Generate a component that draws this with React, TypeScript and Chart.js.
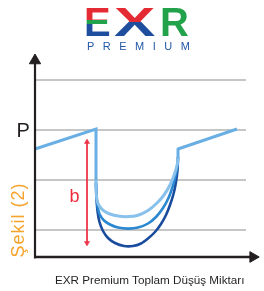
import { useEffect, useRef } from "react";
import { Chart, registerables } from "chart.js";

Chart.register(...registerables);

// horizontal guide lines (y units: one unit per grid step)
const GRID_Y = [1, 2, 3, 4];

// straight blue segments (pressure line before / after the drop)
const LEFT_X = [0, 61, 61];
const LEFT_Y = [2.62, 3.02, 2.0];
const RIGHT_X = [143, 143, 202];
const RIGHT_Y = [2.44, 2.62, 3.02];

// three drop curves (light, middle, dark)
const LIGHT_X = [61, 61.3, 62.5, 65, 69, 75, 83, 93, 103, 113, 122, 129, 135, 139.5, 142.3, 143];
const LIGHT_Y = [2.0, 1.72, 1.56, 1.46, 1.38, 1.32, 1.28, 1.268, 1.296, 1.39, 1.54, 1.7, 1.9, 2.12, 2.32, 2.44];
const MID_X = [61, 61.5, 62.5, 64.5, 69, 75, 83, 93, 103, 113, 121, 128, 133.5, 137.5, 140.5, 142.5, 143];
const MID_Y = [1.96, 1.68, 1.48, 1.32, 1.19, 1.11, 1.05, 1.028, 1.048, 1.13, 1.26, 1.44, 1.64, 1.86, 2.08, 2.3, 2.44];
const DARK_X = [61, 61.5, 62.5, 64.5, 68, 73, 80, 89, 98, 106, 113, 120, 126, 131, 135, 138.5, 141, 142.5, 143];
const DARK_Y = [1.92, 1.64, 1.38, 1.16, 0.98, 0.84, 0.74, 0.68, 0.68, 0.73, 0.83, 0.96, 1.12, 1.3, 1.5, 1.72, 1.96, 2.2, 2.44];

// "b" dimension arrow
const B_X = [52, 52];
const B_Y = [2.76, 0.74];

// axes
const Y_AXIS_X = [0, 0];
const Y_AXIS_Y = [0.433, 4.39];
const X_AXIS_X = [-1, 218];
const X_AXIS_Y = [0.46, 0.46];

const pts = (xs: number[], ys: number[]) => xs.map((x, i) => ({ x, y: ys[i] }));

export default function App() {
  const ref = useRef<HTMLCanvasElement | null>(null);

  useEffect(() => {
    if (!ref.current) return;
    const chart = new Chart(ref.current, {
      type: "line",
      data: {
        datasets: [
          {
            data: pts(Y_AXIS_X, Y_AXIS_Y),
            borderColor: "#231f20",
            backgroundColor: "#231f20",
            borderWidth: 2.2,
            pointRadius: [0, 6.5],
            pointStyle: "triangle",
            pointRotation: 0,
            pointBorderWidth: 1,
            pointBorderColor: "#231f20",
            pointBackgroundColor: "#231f20",
            tension: 0,
            clip: false,
          },
          {
            data: pts(X_AXIS_X, X_AXIS_Y),
            borderColor: "#231f20",
            backgroundColor: "#231f20",
            borderWidth: 2.7,
            pointRadius: [0, 6.2],
            pointStyle: "triangle",
            pointRotation: 90,
            pointBorderWidth: 1,
            pointBorderColor: "#231f20",
            pointBackgroundColor: "#231f20",
            tension: 0,
            clip: false,
          },
          {
            data: pts(B_X, B_Y),
            borderColor: "#ee3346",
            borderWidth: 1,
            pointRadius: 3,
            pointStyle: "triangle",
            pointRotation: [0, 180],
            pointBorderWidth: 0.5,
            pointBorderColor: "#ee3346",
            pointBackgroundColor: "#ee3346",
            tension: 0,
            clip: false,
          },
          {
            data: pts(LEFT_X, LEFT_Y),
            borderColor: "#6aafe3",
            borderWidth: 3,
            pointRadius: 0,
            tension: 0,
            clip: false,
          },
          {
            data: pts(RIGHT_X, RIGHT_Y),
            borderColor: "#6aafe3",
            borderWidth: 3,
            pointRadius: 0,
            tension: 0,
            borderJoinStyle: "round",
            clip: false,
          },
          {
            data: pts(LIGHT_X, LIGHT_Y),
            borderColor: "#88c1eb",
            borderWidth: 3,
            pointRadius: 0,
            tension: 0.3,
            borderCapStyle: "round",
            clip: false,
          },
          {
            data: pts(MID_X, MID_Y),
            borderColor: "#2a87d0",
            borderWidth: 2.6,
            pointRadius: 0,
            tension: 0.3,
            borderCapStyle: "round",
            clip: false,
          },
          {
            data: pts(DARK_X, DARK_Y),
            borderColor: "#1a4c9e",
            borderWidth: 2.6,
            pointRadius: 0,
            tension: 0.3,
            borderCapStyle: "round",
            clip: false,
          },
        ],
      },
      options: {
        responsive: false,
        animation: false,
        devicePixelRatio: 1,
        layout: { padding: { left: 35, right: 18, top: 55, bottom: 34 } },
        plugins: { legend: { display: false }, tooltip: { enabled: false } },
        scales: {
          x: { type: "linear", min: 0, max: 211, display: false },
          y: {
            type: "linear",
            min: 0.46,
            max: 4.5,
            afterBuildTicks: (scale: any) => {
              scale.ticks = GRID_Y.map((v) => ({ value: v }));
            },
            ticks: { display: false },
            border: { display: false },
            grid: { color: "#c6c6c6", lineWidth: 2, drawTicks: false },
          },
        },
      },
    });
    return () => chart.destroy();
  }, []);

  const letterBase: React.CSSProperties = {
    position: "absolute",
    top: 2,
    height: 40,
    fontFamily: "'Liberation Sans', Arial, sans-serif",
    fontWeight: "bold",
    fontSize: 40,
    lineHeight: "40px",
    WebkitBackgroundClip: "text",
    backgroundClip: "text",
    color: "transparent",
    WebkitTextFillColor: "transparent",
    whiteSpace: "nowrap",
  };

  return (
    <div style={{ position: "absolute", left: 0, top: 0, width: 264, height: 291, background: "#fff", overflow: "hidden" }}>
      <canvas ref={ref} width={264} height={291} style={{ position: "absolute", left: 0, top: 0, width: 264, height: 291 }} />
      <div style={{ position: "absolute", left: 0, top: 0, width: 264, height: 50 }}>
        <span
          style={{
            ...letterBase,
            left: 84,
            backgroundImage: "linear-gradient(to bottom, #e42a32 0%, #e42a32 44%, #22a34b 44%, #22a34b 56%, #1f4e9e 56%, #1f4e9e 100%)",
          }}
        >
          E
        </span>
        <span
          style={{
            ...letterBase,
            left: 114,
            transform: "scaleX(1.55)",
            transformOrigin: "0 0",
            backgroundImage: "linear-gradient(to bottom, #e42a32 0%, #e42a32 49%, #1f4e9e 49%, #1f4e9e 100%)",
          }}
        >
          X
        </span>
        <span style={{ ...letterBase, left: 160, backgroundImage: "linear-gradient(#22a34b, #22a34b)" }}>R</span>
        <span
          style={{
            position: "absolute",
            left: 87,
            top: 40.7,
            fontFamily: "'Liberation Sans', Arial, sans-serif",
            fontSize: 11,
            lineHeight: "11px",
            letterSpacing: "8.5px",
            color: "#2457a6",
            whiteSpace: "nowrap",
          }}
        >
          PREMIUM
        </span>
      </div>
      <span
        style={{
          position: "absolute",
          left: 16.4,
          top: 136.7 - 16.9,
          fontFamily: "'Liberation Sans', Arial, sans-serif",
          fontSize: 20,
          lineHeight: "20px",
          color: "#231f20",
        }}
      >
        P
      </span>
      <span
        style={{
          position: "absolute",
          left: 69.5,
          top: 201.7 - 15.2,
          fontFamily: "'Liberation Sans', Arial, sans-serif",
          fontSize: 18,
          lineHeight: "18px",
          color: "#ee2a3a",
        }}
      >
        b
      </span>
      <div
        style={{
          position: "absolute",
          left: 17.8,
          top: 220,
          transform: "translate(-50%, -50%) rotate(-90deg)",
          fontFamily: "'Liberation Sans', Arial, sans-serif",
          fontSize: 18,
          lineHeight: "18px",
          letterSpacing: "1px",
          color: "#f5a32a",
          whiteSpace: "nowrap",
        }}
      >
        Şekil (2)
      </div>
      <span
        style={{
          position: "absolute",
          left: 55,
          top: 285 - 10.6,
          fontFamily: "'Liberation Sans', Arial, sans-serif",
          fontSize: 11.7,
          lineHeight: "11.7px",
          color: "#231f20",
          whiteSpace: "nowrap",
        }}
      >
        EXR Premium Toplam Düşüş Miktarı
      </span>
    </div>
  );
}
